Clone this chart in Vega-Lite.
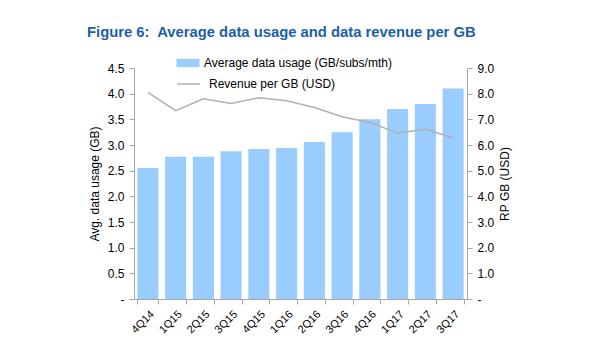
{
  "$schema": "https://vega.github.io/schema/vega-lite/v6.json",
  "width": 333,
  "height": 231,
  "autosize": {"type": "none"},
  "padding": {"left": 134, "top": 68, "right": 133, "bottom": 61},
  "background": "white",
  "title": {
    "text": "Figure 6:\u00a0 Average data usage and data revenue per GB",
    "anchor": "start",
    "frame": "group",
    "dx": -47,
    "dy": 17,
    "offset": 28,
    "font": "Liberation Sans",
    "fontSize": 14.8,
    "fontWeight": "bold",
    "color": "#1C5FA8"
  },
  "data": {
    "values": [
      {"q": "4Q14", "usage": 2.55, "rpgb": 8.05},
      {"q": "1Q15", "usage": 2.77, "rpgb": 7.34},
      {"q": "2Q15", "usage": 2.77, "rpgb": 7.8},
      {"q": "3Q15", "usage": 2.88, "rpgb": 7.62},
      {"q": "4Q15", "usage": 2.92, "rpgb": 7.84},
      {"q": "1Q16", "usage": 2.94, "rpgb": 7.72},
      {"q": "2Q16", "usage": 3.06, "rpgb": 7.46},
      {"q": "3Q16", "usage": 3.25, "rpgb": 7.1},
      {"q": "4Q16", "usage": 3.5, "rpgb": 6.88},
      {"q": "1Q17", "usage": 3.7, "rpgb": 6.46},
      {"q": "2Q17", "usage": 3.8, "rpgb": 6.62},
      {"q": "3Q17", "usage": 4.1, "rpgb": 6.27}
    ]
  },
  "encoding": {
    "x": {
      "field": "q",
      "type": "nominal",
      "sort": null,
      "title": null,
      "scale": {"paddingInner": 0.24, "paddingOuter": 0.12},
      "axis": {
        "labelAngle": -45,
        "tickBand": "extent",
        "tickSize": 5,
        "labelFontSize": 11,
        "labelPadding": 4
      }
    }
  },
  "layer": [
    {
      "mark": {"type": "bar", "color": "#99CCFF"},
      "encoding": {
        "y": {
          "field": "usage",
          "type": "quantitative",
          "title": "Avg. data usage (GB)",
          "scale": {"domain": [0, 4.5], "nice": false},
          "axis": {
            "values": [0, 0.5, 1, 1.5, 2, 2.5, 3, 3.5, 4, 4.5],
            "format": ".1f",
            "labelExpr": "datum.value == 0 ? '-' : datum.label",
            "titlePadding": 6
          }
        },
        "fill": {
          "datum": "Average data usage (GB/subs/mth)",
          "scale": {"range": ["#99CCFF"]},
          "legend": {
            "title": null,
            "orient": "none",
            "legendX": 42,
            "legendY": -17,
            "symbolType": "M-1,-0.36H1V0.36H-1Z",
            "symbolSize": 530,
            "symbolStrokeWidth": 0,
            "labelOffset": 4,
            "labelFontSize": 12,
            "labelLimit": 0,
            "padding": 0
          }
        }
      }
    },
    {
      "mark": {"type": "line", "color": "#B0B0B0", "strokeWidth": 1.5},
      "encoding": {
        "y": {
          "field": "rpgb",
          "type": "quantitative",
          "title": "RP GB (USD)",
          "scale": {"domain": [0, 9], "nice": false},
          "axis": {
            "orient": "right",
            "values": [0, 1, 2, 3, 4, 5, 6, 7, 8, 9],
            "format": ".1f",
            "labelExpr": "datum.value == 0 ? '-' : datum.label",
            "titleAngle": -90,
            "titleBaseline": "top",
            "titlePadding": 6
          }
        },
        "stroke": {
          "datum": "Revenue per GB (USD)",
          "scale": {"range": ["#B0B0B0"]},
          "legend": {
            "title": null,
            "orient": "none",
            "legendX": 42,
            "legendY": 3.5,
            "symbolType": "stroke",
            "symbolSize": 530,
            "symbolStrokeWidth": 1.5,
            "labelOffset": 8,
            "labelFontSize": 12,
            "labelLimit": 0,
            "padding": 0
          }
        }
      }
    }
  ],
  "resolve": {"scale": {"y": "independent"}},
  "config": {
    "font": "Liberation Sans",
    "view": {"stroke": null},
    "axis": {
      "grid": false,
      "domainColor": "#A6A6A6",
      "tickColor": "#A6A6A6",
      "tickSize": 5,
      "labelFont": "Liberation Sans",
      "labelFontSize": 12,
      "labelColor": "#000000",
      "labelPadding": 5,
      "titleFont": "Liberation Sans",
      "titleFontSize": 12,
      "titleFontWeight": "normal",
      "titleColor": "#000000"
    },
    "legend": {
      "labelFont": "Liberation Sans",
      "labelColor": "#000000"
    }
  }
}
